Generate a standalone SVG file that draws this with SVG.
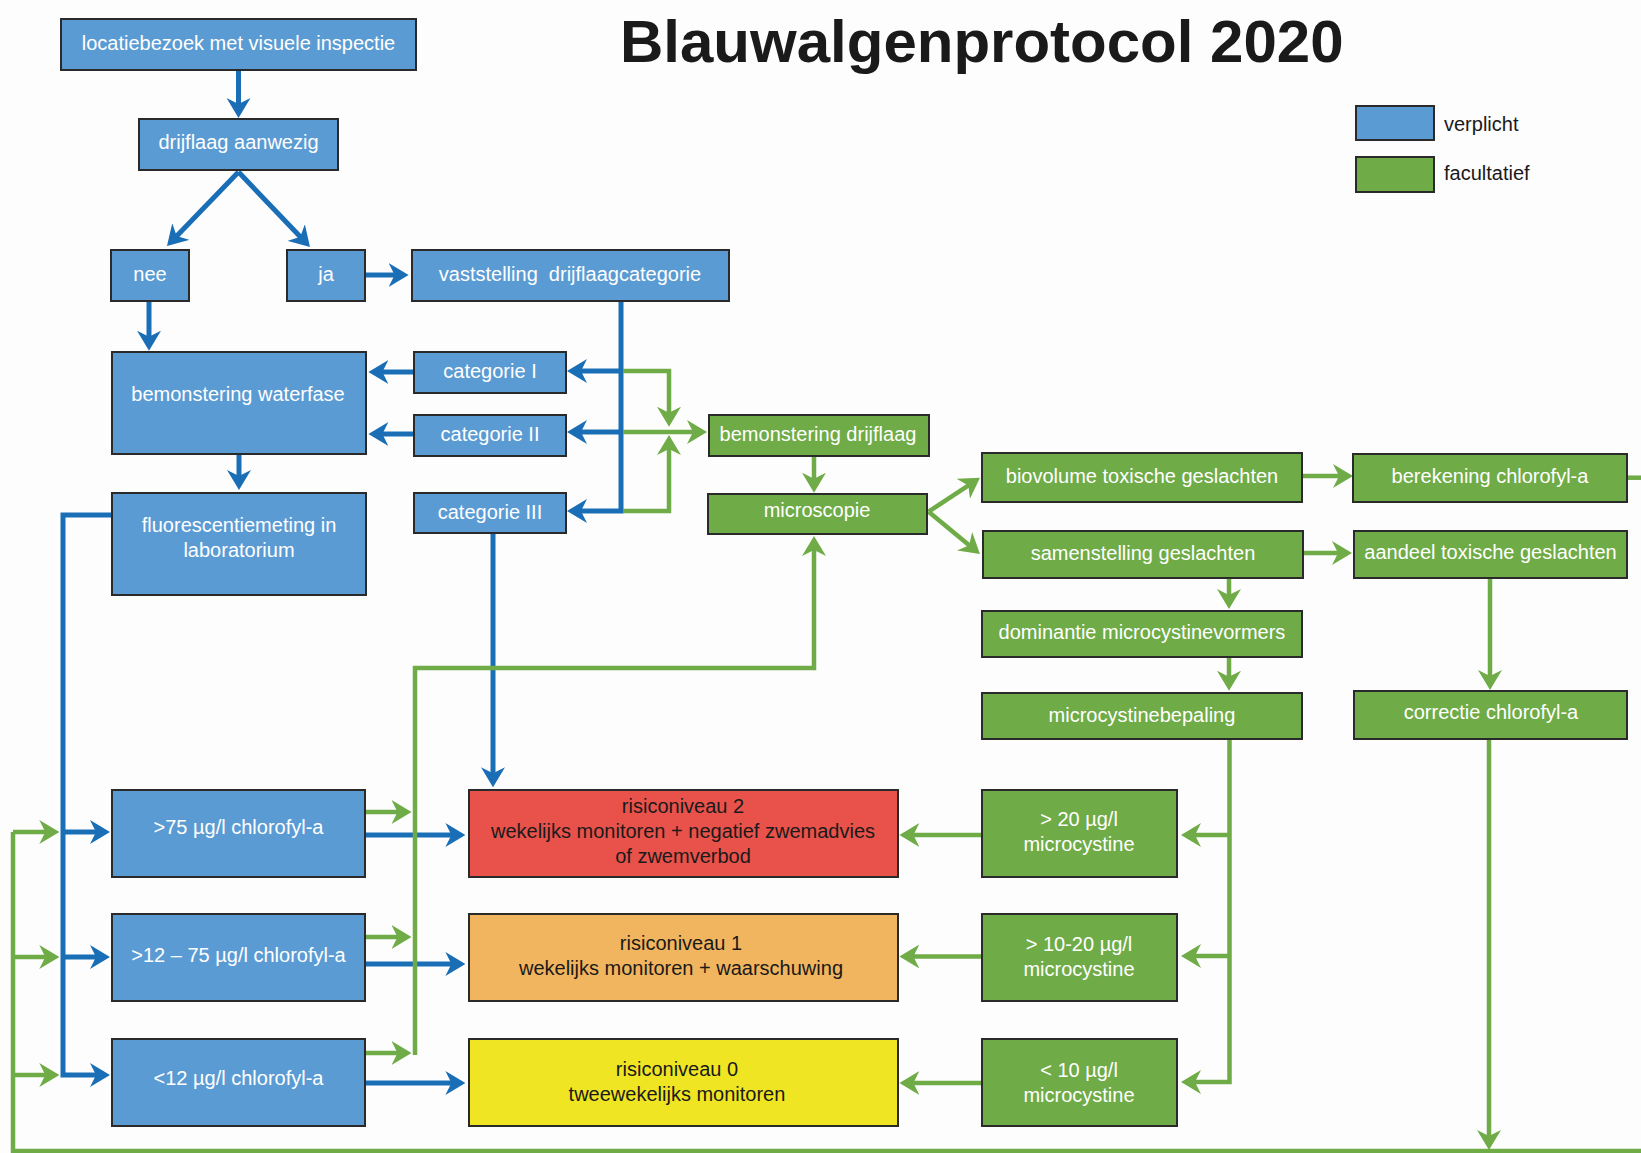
<svg xmlns="http://www.w3.org/2000/svg" width="1641" height="1153" viewBox="0 0 1641 1153">
<style>
.box rect{stroke:#2a2a2a;stroke-width:2}
.bl rect{fill:#5b9bd3}
.gr rect{fill:#6fab47}
.box text{font-family:"Liberation Sans",Arial,sans-serif;font-size:20px;fill:#ffffff;text-anchor:middle;white-space:pre}
.rk text{fill:#1a1a1a}
.cb{fill:none;stroke:#1a6eb6;stroke-width:5}
.cg{fill:none;stroke:#6fab47;stroke-width:4.5}
.ab{marker-end:url(#mb)}
.ag{marker-end:url(#mg)}
.title{font-family:"Liberation Sans",Arial,sans-serif;font-weight:bold;font-size:60px;fill:#1a1a1a}
.leg{font-family:"Liberation Sans",Arial,sans-serif;font-size:20px;fill:#1a1a1a}
</style>
<defs>
<marker id="mb" viewBox="0 0 20 24" refX="8" refY="12" markerWidth="20" markerHeight="24" markerUnits="userSpaceOnUse" orient="auto">
<path d="M0,0 L20,12 L0,24 L6,12 Z" fill="#1a6eb6"/>
</marker>
<marker id="mg" viewBox="0 0 20 24" refX="8" refY="12" markerWidth="20" markerHeight="24" markerUnits="userSpaceOnUse" orient="auto">
<path d="M0,0 L20,12 L0,24 L6,12 Z" fill="#6fab47"/>
</marker>
</defs>
<rect x="0" y="0" width="1641" height="1153" fill="#fdfdfd"/>
<text class="title" x="620" y="62">Blauwalgenprotocol 2020</text>

<g id="legend">
<rect x="1356" y="106" width="78" height="34" fill="#5b9bd3" stroke="#2a2a2a" stroke-width="2"/>
<rect x="1356" y="157" width="78" height="35" fill="#6fab47" stroke="#2a2a2a" stroke-width="2"/>
<text class="leg" x="1444" y="131">verplicht</text>
<text class="leg" x="1444" y="180">facultatief</text>
</g>

<g id="connectors">
<!-- blue -->
<path class="cb ab" d="M238.5,70 V106"/>
<path class="cb ab" d="M238.5,172 L175.3,237.4"/>
<path class="cb ab" d="M238.5,172 L301.7,238.3"/>
<path class="cb ab" d="M365,275 H396.6"/>
<path class="cb ab" d="M149,301 V338.7"/>
<path class="cb ab" d="M621,301 V511 H579"/>
<path class="cb ab" d="M621,371 H579"/>
<path class="cb ab" d="M621,432 H579"/>
<path class="cb ab" d="M414,372 H380.4"/>
<path class="cb ab" d="M414,434 H380.4"/>
<path class="cb ab" d="M239,454 V478"/>
<path class="cb ab" d="M493,533 V775.3"/>
<path class="cb ab" d="M112,515 H63 V1075 H98"/>
<path class="cb ab" d="M63,832 H98"/>
<path class="cb ab" d="M63,957 H98"/>
<path class="cb ab" d="M365,835 H453.4"/>
<path class="cb ab" d="M365,964 H453.4"/>
<path class="cb ab" d="M365,1083 H453.4"/>
<!-- green -->
<path class="cg ag" d="M623,371 H669 V414.7"/>
<path class="cg ag" d="M623,432 H695"/>
<path class="cg ag" d="M623,511 H669 V447"/>
<path class="cg ag" d="M814,456 V480.7"/>
<path class="cg ag" d="M415,1055 V668 H814 V548"/>
<path class="cg ag" d="M365,812 H399.5"/>
<path class="cg ag" d="M365,937 H399.5"/>
<path class="cg ag" d="M365,1053 H399.5"/>
<path class="cg ag" d="M928.6,511.7 L970,484.3"/>
<path class="cg ag" d="M928.6,511.7 L970.7,546.4"/>
<path class="cg ag" d="M1302,476 H1341"/>
<path class="cg ag" d="M1303,553 H1340"/>
<path class="cg ag" d="M1229,578 V597"/>
<path class="cg ag" d="M1229,657 V678.7"/>
<path class="cg ag" d="M1229.5,739 V1082 H1193"/>
<path class="cg ag" d="M1229.5,835 H1193"/>
<path class="cg ag" d="M1229.5,956 H1193"/>
<path class="cg ag" d="M982,835 H911.4"/>
<path class="cg ag" d="M982,956.5 H911.4"/>
<path class="cg ag" d="M982,1083 H911.4"/>
<path class="cg ag" d="M1490,578 V678"/>
<path class="cg ag" d="M1489,739 V1138"/>
<path class="cg" d="M1627,477.7 H1641"/>
<path class="cg" d="M1641,1151 H13 V832"/>
<path class="cg ag" d="M13,832 H47.3"/>
<path class="cg ag" d="M15,957 H47.3"/>
<path class="cg ag" d="M15,1075 H47.3"/>
</g>

<g id="n-locatie" class="box bl"><rect x="61" y="19" width="355" height="51"/><text x="238.5" y="50">locatiebezoek met visuele inspectie</text></g>
<g id="n-drijflaag" class="box bl"><rect x="139" y="119" width="199" height="51"/><text x="238.5" y="148.5">drijflaag aanwezig</text></g>
<g id="n-nee" class="box bl"><rect x="111" y="250" width="78" height="51"/><text x="150" y="281">nee</text></g>
<g id="n-ja" class="box bl"><rect x="287" y="250" width="78" height="51"/><text x="326" y="281">ja</text></g>
<g id="n-vaststelling" class="box bl"><rect x="412" y="250" width="317" height="51"/><text x="570" y="281">vaststelling  drijflaagcategorie</text></g>
<g id="n-waterfase" class="box bl"><rect x="112" y="352" width="254" height="102"/><text x="238" y="401">bemonstering waterfase</text></g>
<g id="n-cat1" class="box bl"><rect x="414" y="352" width="152" height="41"/><text x="490" y="378">categorie I</text></g>
<g id="n-cat2" class="box bl"><rect x="414" y="415" width="152" height="41"/><text x="490" y="441">categorie II</text></g>
<g id="n-cat3" class="box bl"><rect x="414" y="493" width="152" height="40"/><text x="490" y="518.5">categorie III</text></g>
<g id="n-fluor" class="box bl"><rect x="112" y="493" width="254" height="102"/><text x="239" y="532">fluorescentiemeting in</text><text x="239" y="557">laboratorium</text></g>
<g id="n-bemdrijf" class="box gr"><rect x="709" y="415" width="220" height="41"/><text x="818" y="441">bemonstering drijflaag</text></g>
<g id="n-micro" class="box gr"><rect x="708" y="494" width="219" height="40"/><text x="817" y="517">microscopie</text></g>
<g id="n-biovol" class="box gr"><rect x="982" y="453" width="320" height="49"/><text x="1142" y="483">biovolume toxische geslachten</text></g>
<g id="n-bereken" class="box gr"><rect x="1353" y="454" width="274" height="48"/><text x="1490" y="483">berekening chlorofyl-a</text></g>
<g id="n-samen" class="box gr"><rect x="983" y="531" width="320" height="47"/><text x="1143" y="560">samenstelling geslachten</text></g>
<g id="n-aandeel" class="box gr"><rect x="1354" y="531" width="273" height="47"/><text x="1490.5" y="559">aandeel toxische geslachten</text></g>
<g id="n-dominantie" class="box gr"><rect x="982" y="611" width="320" height="46"/><text x="1142" y="639">dominantie microcystinevormers</text></g>
<g id="n-mcbepaling" class="box gr"><rect x="982" y="693" width="320" height="46"/><text x="1142" y="721.5">microcystinebepaling</text></g>
<g id="n-correctie" class="box gr"><rect x="1354" y="691" width="273" height="48"/><text x="1491" y="719">correctie chlorofyl-a</text></g>
<g id="n-chl75" class="box bl"><rect x="112" y="790" width="253" height="87"/><text x="238.5" y="834">&gt;75 µg/l chlorofyl-a</text></g>
<g id="n-chl12" class="box bl"><rect x="112" y="914" width="253" height="87"/><text x="238.5" y="962">&gt;12 – 75 µg/l chlorofyl-a</text></g>
<g id="n-chl0" class="box bl"><rect x="112" y="1039" width="253" height="87"/><text x="238.5" y="1085">&lt;12 µg/l chlorofyl-a</text></g>
<g id="n-risk2" class="box rk"><rect x="469" y="790" width="429" height="87" fill="#e8524a"/><text x="683" y="813">risiconiveau 2</text><text x="683" y="838">wekelijks monitoren + negatief zwemadvies</text><text x="683" y="863">of zwemverbod</text></g>
<g id="n-risk1" class="box rk"><rect x="469" y="914" width="429" height="87" fill="#f2b55f"/><text x="681" y="950">risiconiveau 1</text><text x="681" y="975">wekelijks monitoren + waarschuwing</text></g>
<g id="n-risk0" class="box rk"><rect x="469" y="1039" width="429" height="87" fill="#f0e523"/><text x="677" y="1076">risiconiveau 0</text><text x="677" y="1101">tweewekelijks monitoren</text></g>
<g id="n-mc20" class="box gr"><rect x="982" y="790" width="195" height="87"/><text x="1079" y="825.5">&gt; 20 µg/l</text><text x="1079" y="851">microcystine</text></g>
<g id="n-mc10" class="box gr"><rect x="982" y="914" width="195" height="87"/><text x="1079" y="950.5">&gt; 10-20 µg/l</text><text x="1079" y="975.5">microcystine</text></g>
<g id="n-mc0" class="box gr"><rect x="982" y="1039" width="195" height="87"/><text x="1079" y="1076.5">&lt; 10 µg/l</text><text x="1079" y="1101.5">microcystine</text></g>
</svg>
